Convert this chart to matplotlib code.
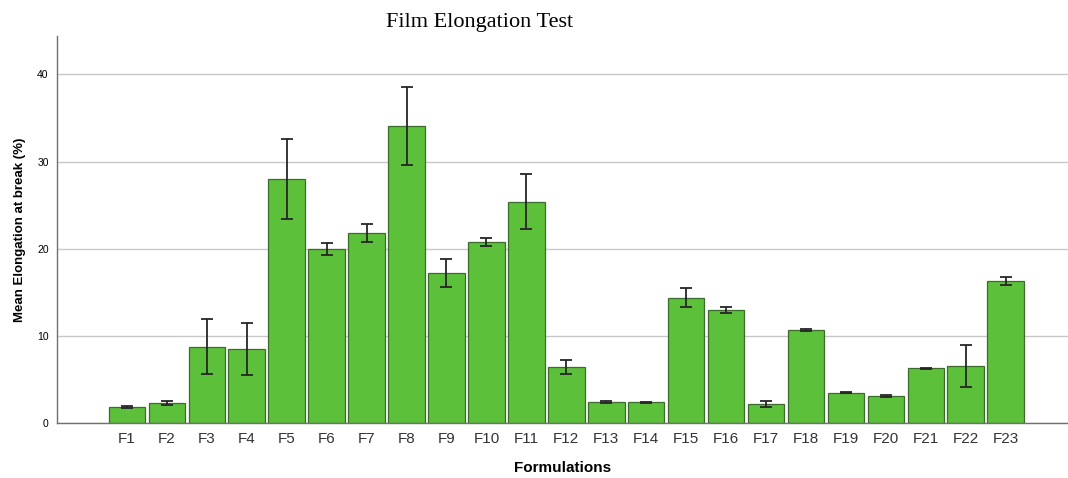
import matplotlib
matplotlib.use("Agg")
import matplotlib.pyplot as plt
import numpy as np

# Mean elongation at break (%) per formulation, with error bar half-widths
labels = [f"F{i}" for i in range(1, 24)]
means = [1.9, 2.3, 8.8, 8.5, 28.0, 20.0, 21.8, 34.1, 17.2, 20.8, 25.4, 6.5,
         2.4, 2.4, 14.4, 13.0, 2.2, 10.7, 3.5, 3.1, 6.3, 6.6, 16.3]
errs = [0.1, 0.2, 3.1, 2.95, 4.6, 0.7, 1.0, 4.5, 1.6, 0.5, 3.15, 0.8,
        0.1, 0.05, 1.1, 0.37, 0.38, 0.08, 0.04, 0.12, 0.08, 2.4, 0.5]
yticks = [0, 10, 20, 30, 40]

fig = plt.figure(figsize=(10.68, 4.78), dpi=100)
ax = fig.add_axes([57 / 1068, (478 - 423.3) / 478, 1 - 57 / 1068, (423.3 - 36) / 478])

x = np.arange(len(labels))
ax.bar(x, means, width=0.915, color="#5dc03a", edgecolor="#3d6b2e", linewidth=0.9, zorder=2)
ax.errorbar(x, means, yerr=errs, fmt="none", ecolor="#262626", elinewidth=1.3,
            capsize=4, capthick=1.3, zorder=3)

ax.set_xlim(-1.75, 23.56)
ax.set_ylim(0, 44.4)
ax.set_xticks(x)
ax.set_xticklabels(labels, fontsize=11, color="#333333", family="Liberation Sans")
ax.set_yticks(yticks)
ax.set_yticklabels([str(t) for t in yticks], fontsize=7.5, family="Liberation Sans")
ax.tick_params(length=0, pad=6)
ax.yaxis.grid(True, color="#c8c8c8", linewidth=1.0, zorder=0)
ax.set_axisbelow(True)
for s in ("top", "right"):
    ax.spines[s].set_visible(False)
for s in ("left", "bottom"):
    ax.spines[s].set_color("#707070")
    ax.spines[s].set_linewidth(1.0)

ax.set_ylabel("Mean Elongation at break (%)", fontsize=9.5, fontweight="bold",
              family="Liberation Sans", labelpad=8)
ax.set_xlabel("Formulations", fontsize=11, fontweight="bold",
              family="Liberation Sans", labelpad=11)
fig.text(480 / 1068, 1 - 23 / 478, "Film Elongation Test", ha="center", va="center",
         fontsize=16, family="Liberation Serif")

fig.savefig("out.png", dpi=100)
